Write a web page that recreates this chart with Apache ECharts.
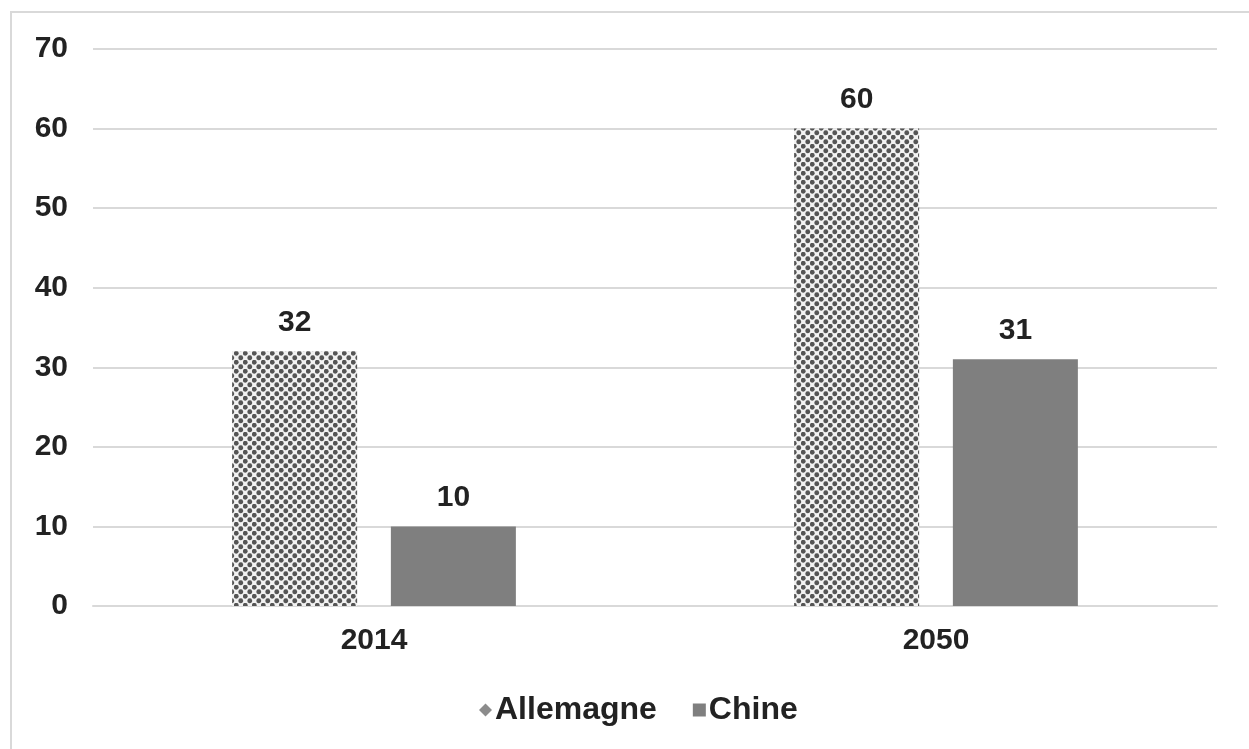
<!DOCTYPE html>
<html>
<head>
<meta charset="utf-8">
<script src="https://cdn.jsdelivr.net/npm/echarts@6/dist/echarts.min.js"></script>
<style>
html,body{margin:0;padding:0;background:#fff;}
#main{width:1249px;height:749px;}
</style>
</head>
<body>
<div id="main"></div>
<script>
const categories = ['2014', '2050'];
const allemagne = [32, 60];
const chine = [10, 31];
const yTicks = { min: 0, max: 70, interval: 10 };

function makePattern() {
  const c = document.createElement('canvas');
  c.width = 9; c.height = 9;
  const g = c.getContext('2d');
  g.fillStyle = '#f2f2f2';
  g.fillRect(0, 0, 9, 9);
  g.fillStyle = '#555555';
  const pts = [[2.25, 2.25], [6.75, 6.75], [6.75 - 9, 6.75], [6.75, 6.75 - 9], [6.75 - 9, 6.75 - 9]];
  pts.forEach(p => { g.beginPath(); g.arc(p[0], p[1], 2.4, 0, Math.PI * 2); g.fill(); });
  return c;
}
const pattern = { image: makePattern(), repeat: 'repeat' };

const font = '"Liberation Sans", Arial, sans-serif';
const txt = '#222222';
const chart = echarts.init(document.getElementById('main'));
chart.setOption({
  animation: false,
  backgroundColor: '#fff',
  graphic: [{
    type: 'rect', shape: { x: 11, y: 12, width: 1400, height: 900 },
    style: { fill: 'none', stroke: '#d9d9d9', lineWidth: 2 }, silent: true, z: 100
  }],
  grid: { left: 93, right: 32, top: 49, bottom: 143, containLabel: false },
  legend: {
    bottom: 18, left: 474, itemWidth: 13, itemHeight: 13, itemGap: 36,
    textStyle: { fontFamily: font, fontWeight: 'bold', fontSize: 32, color: txt, padding: [0, 0, 0, -2] },
    data: [
      { name: 'Allemagne', icon: 'path://M5,0 L10,5 L5,10 L0,5 Z', itemStyle: { color: '#8c8c8c' } },
      { name: 'Chine', icon: 'rect' }
    ]
  },
  xAxis: {
    type: 'category', data: categories,
    axisLine: { lineStyle: { color: '#d9d9d9', width: 2 } },
    axisTick: { show: false },
    axisLabel: { margin: 20, fontFamily: font, fontWeight: 'bold', fontSize: 30, color: txt }
  },
  yAxis: {
    type: 'value', min: yTicks.min, max: yTicks.max, interval: yTicks.interval,
    axisLine: { show: false }, axisTick: { show: false },
    splitLine: { lineStyle: { color: '#d9d9d9', width: 2 } },
    axisLabel: { margin: 25, fontFamily: font, fontWeight: 'bold', fontSize: 30, color: txt }
  },
  series: [
    {
      name: 'Allemagne', type: 'bar', data: allemagne, barWidth: 125, barGap: '27%',
      itemStyle: { color: pattern },
      label: { show: true, position: 'top', distance: 14, fontFamily: font, fontWeight: 'bold', fontSize: 30, color: txt }
    },
    {
      name: 'Chine', type: 'bar', data: chine, barWidth: 125,
      itemStyle: { color: '#7f7f7f' },
      label: { show: true, position: 'top', distance: 14, fontFamily: font, fontWeight: 'bold', fontSize: 30, color: txt }
    }
  ]
});
</script>
</body>
</html>
